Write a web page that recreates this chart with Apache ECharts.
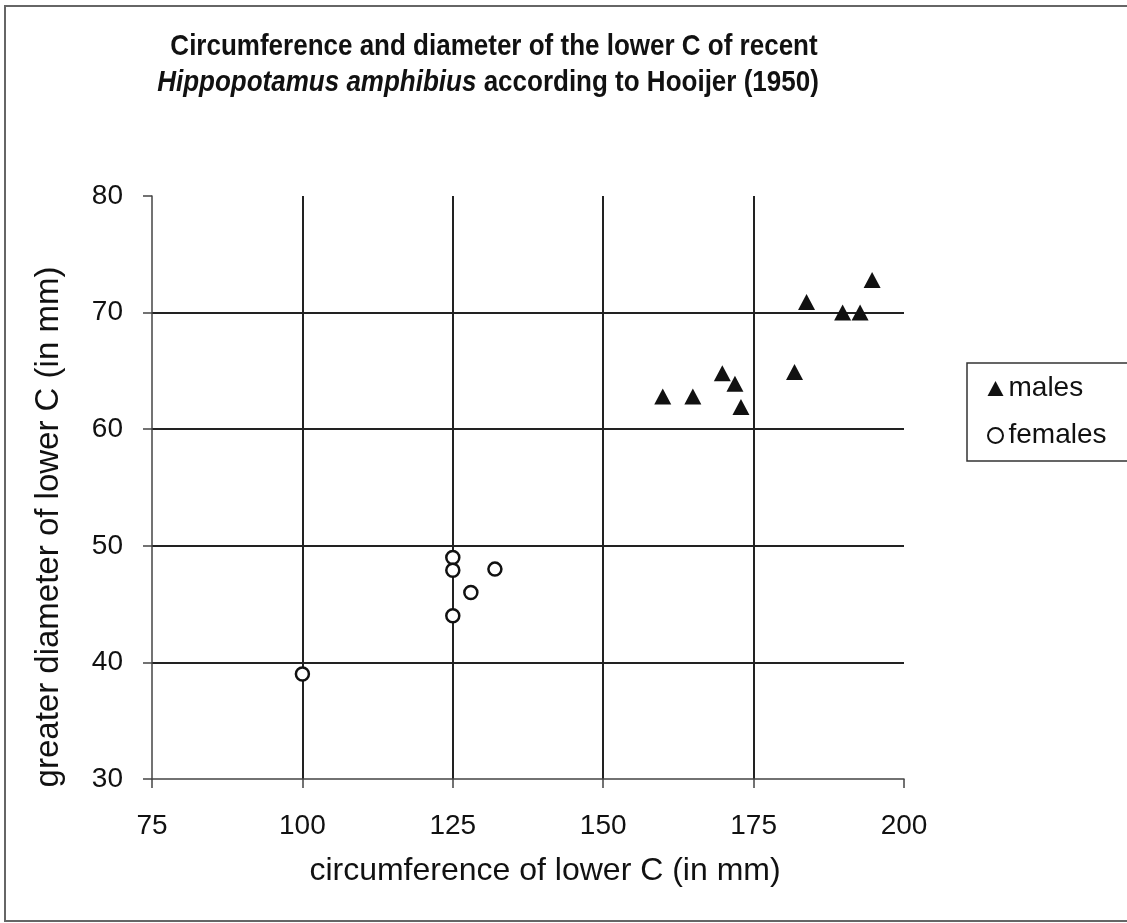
<!DOCTYPE html>
<html>
<head>
<meta charset="utf-8">
<script src="https://cdn.jsdelivr.net/npm/echarts@6/dist/echarts.min.js"></script>
<style>
html,body{margin:0;padding:0;background:#fff;}
#chart{width:1127px;height:923px;}
</style>
</head>
<body>
<div id="chart"></div>
<script>
const titleLine1 = 'Circumference and diameter of the lower C of recent';
const titleSpecies = 'Hippopotamus amphibius';
const titleRest = ' according to Hooijer (1950)';
const xName = 'circumference of lower C (in mm)';
const yName = 'greater diameter of lower C (in mm)';
const seriesNames = ['males', 'females'];
const xTicks = [75, 200, 25];   // min, max, interval
const yTicks = [30, 80, 10];

const malesX = [194.7, 183.8, 189.8, 192.7, 181.8, 169.8, 171.9, 159.9, 164.9, 172.9];
const malesY = [72.8, 70.9, 70.0, 70.0, 64.9, 64.8, 63.9, 62.8, 62.8, 61.9];
const femalesX = [125, 125, 132, 128, 125, 100];
const femalesY = [49.0, 47.9, 48.0, 46.0, 44.0, 39.0];

const FONT = '"Liberation Sans", Arial, Helvetica, sans-serif';
const INK = '#111111';

function pairs(xs, ys) { return xs.map((x, i) => [x, ys[i]]); }

const chart = echarts.init(document.getElementById('chart'));
chart.setOption({
  backgroundColor: '#ffffff',
  animation: false,
  grid: { left: 152, right: 223, top: 196, bottom: 144, containLabel: false },
  xAxis: {
    type: 'value', min: xTicks[0], max: xTicks[1], interval: xTicks[2],
    name: xName, nameLocation: 'middle', nameGap: 76,
    nameTextStyle: { fontFamily: FONT, fontSize: 32, color: INK, padding: [0, 0, 0, 34] },
    axisLine: { show: true, onZero: false, lineStyle: { color: '#444', width: 1.5 } },
    axisTick: { show: true, inside: false, length: 9, lineStyle: { color: '#444', width: 1.5 } },
    axisLabel: { margin: 33, fontFamily: FONT, fontSize: 28, color: INK },
    splitLine: { show: true, showMinLine: false, showMaxLine: false, lineStyle: { color: '#222', width: 2 } }
  },
  yAxis: {
    type: 'value', min: yTicks[0], max: yTicks[1], interval: yTicks[2],
    axisLine: { show: true, onZero: false, lineStyle: { color: '#444', width: 1.5 } },
    axisTick: { show: true, inside: false, length: 9, lineStyle: { color: '#444', width: 1.5 } },
    axisLabel: { margin: 29, fontFamily: FONT, fontSize: 28, color: INK },
    splitLine: { show: true, showMinLine: false, showMaxLine: false, lineStyle: { color: '#222', width: 2 } }
  },
  legend: {
    orient: 'vertical', left: 987, top: 373, itemGap: 16,
    itemWidth: 16, itemHeight: 15, padding: 0,
    textStyle: { fontFamily: FONT, fontSize: 28, color: INK, lineHeight: 31 },
    data: [
      { name: seriesNames[0], icon: 'triangle' },
      { name: seriesNames[1], icon: 'circle' }
    ]
  },
  series: [
    {
      name: seriesNames[0], type: 'scatter', symbol: 'triangle', symbolSize: [17, 16],
      itemStyle: { color: INK, opacity: 1 },
      data: pairs(malesX, malesY)
    },
    {
      name: seriesNames[1], type: 'scatter', symbol: 'circle', symbolSize: 13,
      itemStyle: { color: '#ffffff', borderColor: INK, borderWidth: 2.5, opacity: 1 },
      data: pairs(femalesX, femalesY)
    }
  ],
  graphic: [
    { type: 'rect', z: -10, shape: { x: 5, y: 6, width: 1140, height: 915 },
      style: { fill: 'none', stroke: '#666', lineWidth: 2 } },
    { type: 'rect', shape: { x: 967, y: 363, width: 200, height: 98 },
      style: { fill: 'none', stroke: '#333', lineWidth: 1.5 } },
    { type: 'text', x: 494, y: 47, scaleY: 1.15,
      style: { text: titleLine1, font: 'bold 26px ' + FONT, fill: INK, textAlign: 'center', textVerticalAlign: 'middle' } },
    { type: 'text', x: 488, y: 83, scaleY: 1.15,
      style: {
        text: '{i|' + titleSpecies + '}{b|' + titleRest + '}',
        font: 'bold 26px ' + FONT, fill: INK, textAlign: 'center', textVerticalAlign: 'middle',
        rich: {
          i: { fontFamily: FONT, fontSize: 26, fontWeight: 'bold', fontStyle: 'italic', fill: INK, color: INK },
          b: { fontFamily: FONT, fontSize: 26, fontWeight: 'bold', fill: INK, color: INK }
        }
      } },
    { type: 'text', x: 49, y: 527, rotation: Math.PI / 2,
      style: { text: yName, font: '33px ' + FONT, fill: INK, textAlign: 'center', textVerticalAlign: 'middle' } }
  ]
});
</script>
</body>
</html>
